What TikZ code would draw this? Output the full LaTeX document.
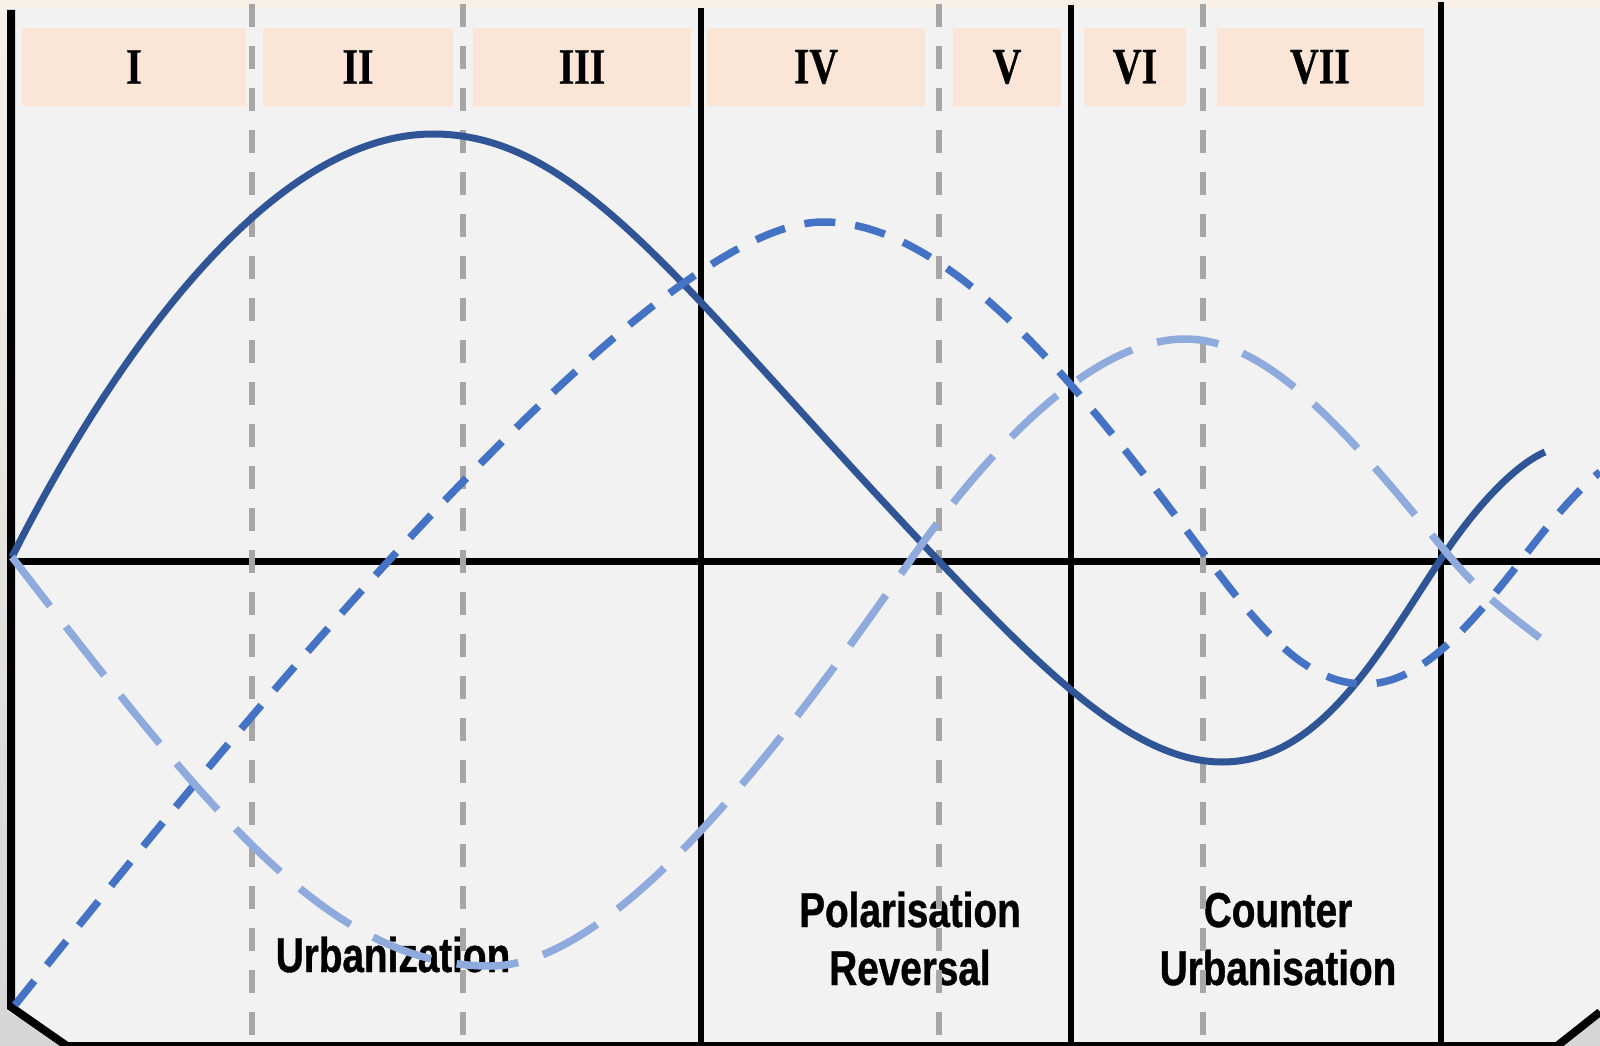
\documentclass[tikz,border=0pt]{standalone}
\usepackage{fontspec}
\setmainfont{Liberation Serif}
\newfontfamily\phasefont[FakeStretch=0.78, FakeBold=0.6]{Liberation Serif}
\newfontfamily\stagefont[FakeStretch=0.79, FakeBold=0.8]{Liberation Sans}
\usetikzlibrary{positioning}
\definecolor{phase_fill}{HTML}{FBE5D6}
\definecolor{panel}{HTML}{F2F2F2}
\definecolor{outer_cream}{HTML}{F6F0E6}
\definecolor{outer_gray}{HTML}{D6D6D6}
\definecolor{guide_gray}{HTML}{A6A6A6}
\definecolor{wave_dark}{HTML}{2F5597}
\definecolor{wave_mid}{HTML}{4472C4}
\definecolor{wave_light}{HTML}{8FAADC}

\begin{document}
\begin{tikzpicture}[
    x=1pt, y=-1pt,
    phase/.style={
        fill=phase_fill,
        minimum width=#1,
        minimum height=78pt,
        inner sep=0pt,
        font=\phasefont\bfseries\fontsize{51}{51}\selectfont
    },
    stage/.style={
        align=center,
        inner sep=0pt,
        font=\stagefont\bfseries\fontsize{49}{58}\selectfont
    },
    divider/.style={black, line width=6pt},
    guide/.style={guide_gray, line width=6pt, dash pattern=on 23pt off 19pt},
    wave_main/.style={wave_dark, line width=7pt},
    wave_second/.style={wave_mid, line width=7.5pt, dash pattern=on 31pt off 20pt},
    wave_third/.style={wave_light, line width=7.5pt, dash pattern=on 62pt off 26pt}
]
\useasboundingbox (0,0) rectangle (1600,1046);

% background
\fill[panel] (0,0) rectangle (1600,1046);
\fill[outer_cream] (0,0) rectangle (1600,8);
\shade[top color=outer_cream, bottom color=outer_gray] (0,0) rectangle (7,1046);
\fill[outer_gray] (0,1007) -- (67,1046) -- (0,1046) -- cycle;
\fill[outer_gray] (1557,1046) -- (1600,1012) -- (1600,1046) -- cycle;

% phase headers
\node[phase=224pt] (p1) at (134,67) {I};
\node[phase=190pt] (p2) at (358,67) {II};
\node[phase=218pt] (p3) at (582,67) {III};
\node[phase=218pt] (p4) at (816,67) {IV};
\node[phase=108pt] (p5) at (1007,67) {V};
\node[phase=102pt] (p6) at (1135,67) {VI};
\node[phase=207pt] (p7) at (1320,67) {VII};

% frame, axis and stage dividers
\draw[line width=8pt] (11,10) -- (11,1007) -- (67,1046) -- (1557,1046) -- (1600,1012);
\draw[line width=7pt] (11,561) -- (1600,561);
\foreach \x/\top in {701/8, 1071/5, 1441/2}
    \draw[divider] (\x,\top) -- (\x,1046);

% stage names
\node[stage, anchor=base] (urban) at (393,972) {Urbanization};
\node[stage, anchor=base] (polar) at (910,985) {Polarisation\\Reversal};
\node[stage, anchor=base] (counter) at (1278,985) {Counter\\Urbanisation};

% phase borders
\foreach \x in {252, 463, 939, 1203}
    \draw[guide] (\x,4) -- (\x,1040);

% waves
\draw[wave_main] (12,557)
    .. controls (102,378) and (263,134) .. (433,134)
    .. controls (583,134) and (687,296) .. (937,559)
    .. controls (1037,664) and (1132,762) .. (1222,762)
    .. controls (1322,762) and (1381,649) .. (1441,559)
    .. controls (1476,506) and (1515,465) .. (1545,452);
\draw[wave_second] (15,1005)
    .. controls (265,692) and (653,222) .. (823,222)
    .. controls (953,222) and (1087,396) .. (1207,558)
    .. controls (1267,639) and (1310,684) .. (1365,684)
    .. controls (1420,684) and (1468,629) .. (1523,558)
    .. controls (1548,525) and (1575,492) .. (1600,472);
\draw[wave_third] (12,557)
    .. controls (212,816) and (330,966) .. (490,966)
    .. controls (620,966) and (792,730) .. (912,558)
    .. controls (992,444) and (1095,339) .. (1185,339)
    .. controls (1275,339) and (1361,450) .. (1451,558)
    .. controls (1481,594) and (1510,615) .. (1540,638);

\end{tikzpicture}
\end{document}
